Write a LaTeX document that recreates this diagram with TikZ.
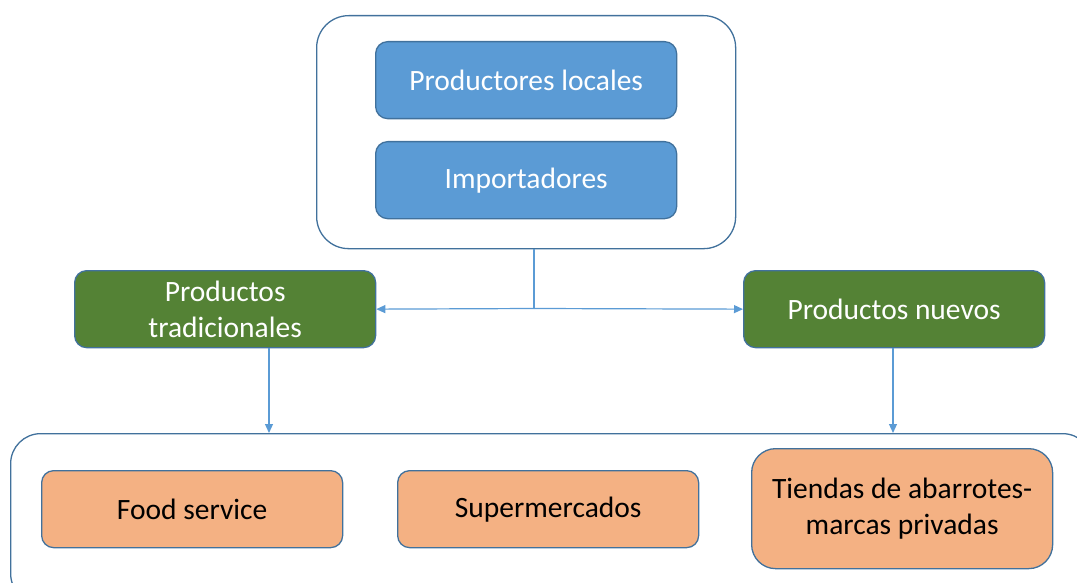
\documentclass[tikz,border=0pt]{standalone}
\usepackage{fontspec}
\setmainfont{Carlito}
\usetikzlibrary{arrows.meta}
\definecolor{edgeblue}{RGB}{65,113,156}
\definecolor{lineblue}{RGB}{91,155,213}
\definecolor{boxblue}{RGB}{91,155,213}
\definecolor{boxgreen}{RGB}{84,130,53}
\definecolor{boxorange}{RGB}{244,177,131}
\begin{document}
\begin{tikzpicture}[x=1pt,y=-1pt]

    \tikzset{
      frame/.style={
        draw=edgeblue,
        line width=1.3pt,
        rounded corners=32pt,
        inner sep=0pt,
      },
      item/.style={
        draw=edgeblue,
        line width=1.3pt,
        rounded corners=12pt,
        inner sep=0pt,
        anchor=north west,
        minimum width=301pt,
        minimum height=77pt,
        align=center,
        font=\fontsize{29.5}{36}\selectfont,
      },
      source/.style={item, fill=boxblue, text=white},
      product/.style={item, fill=boxgreen, text=white},
      channel/.style={item, fill=boxorange, text=black},
      link/.style={draw=lineblue, line width=1.2pt},
      flow/.style={link, -{Triangle[length=9pt,width=8pt]}},
    }
    \useasboundingbox (0,0) rectangle (1077,583);
    \clip (0,0) rectangle (1077,583);

	% upper group
	\node[frame, anchor=north west, minimum width=419pt, minimum height=233pt] (origen) at (316,15) {};
	\node[source] (prodloc) at (375,41) {Productores locales};
	\node[source] (import) at (375,141) {Importadores};

	% product types
	\node[product] (tradic) at (74,270) {Productos\\tradicionales};
	\node[product] (nuevos) at (743,270) {Productos nuevos};

	% lower group
	\node[frame, rounded corners=30pt, anchor=north west, minimum width=1082pt, minimum height=170pt] (canales) at (10,433) {};
	\node[channel] (food) at (41,470) {Food service};
	\node[channel] (super) at (397,470) {Supermercados};
	\node[channel, rounded corners=24pt, minimum height=120pt] (tiendas) at (751,448) {Tiendas de abarrotes-\\marcas privadas};

	% connectors
	\coordinate (junc) at (534,308.5);
	\coordinate (tin) at (269,433);
	\coordinate (nin) at (893,433);
	\draw[link] (junc |- origen.south) -- (junc);
	\draw[flow] (junc) -- (tradic.east);
	\draw[flow] (junc) -- (nuevos.west);
	\draw[flow] (tin |- tradic.south) -- (tin);
	\draw[flow] (nin |- nuevos.south) -- (nin);

\end{tikzpicture}
\end{document}
